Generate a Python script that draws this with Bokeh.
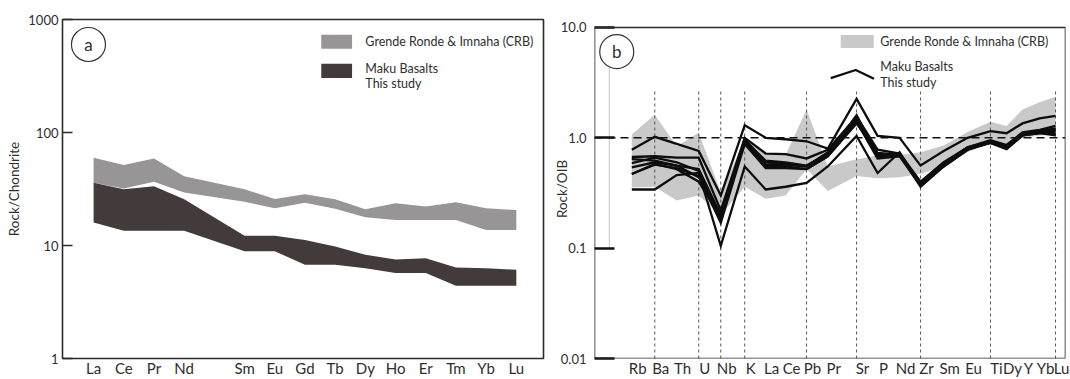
from bokeh.plotting import figure
from bokeh.layouts import row
from bokeh.models import FixedTicker, Span, Label, Range1d, LinearAxis, BoxAnnotation
from bokeh.embed import file_html
from bokeh.resources import INLINE

FONT = "Lato"
TXT = "#2e2e2e"

# ---------------- Panel a: REE / Chondrite ----------------
ree_names = ["La", "Ce", "Pr", "Nd", "Sm", "Eu", "Gd", "Tb", "Dy", "Ho", "Er", "Tm", "Yb", "Lu"]
ree_slot = [0, 1, 2, 3, 5, 6, 7, 8, 9, 10, 11, 12, 13, 14]   # Pm slot (4) left empty
crb_ree_hi = [59.7, 51.5, 59.0, 41.0, 31.4, 25.8, 28.4, 25.6, 20.9, 23.7, 22.1, 24.1, 21.4, 20.6]
crb_ree_lo = [36.0, 32.0, 36.7, 29.4, 24.4, 21.4, 23.9, 21.1, 17.8, 16.8, 16.8, 16.8, 13.7, 13.7]
maku_ree_hi = [36.0, 31.4, 33.5, 25.6, 12.2, 12.2, 11.2, 9.8, 8.3, 7.5, 7.7, 6.4, 6.3, 6.1]
maku_ree_lo = [16.0, 13.5, 13.5, 13.5, 8.9, 8.9, 6.75, 6.75, 6.3, 5.7, 5.7, 4.4, 4.4, 4.4]
a_yticks = [1, 10, 100, 1000]
a_ylabels = ["1", "10", "100", "1000"]

# ---------------- Panel b: OIB-normalised spider ----------------
elems = ["Rb", "Ba", "Th", "U", "Nb", "K", "La", "Ce", "Pb", "Pr", "Sr",
         "P", "Nd", "Zr", "Sm", "Eu", "Ti", "Dy", "Y", "Yb", "Lu"]
elem_x = [0.0, 1.085, 2.12, 3.16, 4.2, 5.33, 6.32, 7.26, 8.25, 9.25, 10.61,
          11.6, 12.64, 13.63, 14.72, 15.85, 16.93, 17.69, 18.44, 19.25, 20.0]
guide_elems = ["Ba", "U", "Nb", "K", "Pb", "Sr", "Zr", "Ti", "Lu"]

crb_oib_hi = [1.07, 1.62, 0.84, 1.11, 0.32, 0.97, 0.70, 0.70, 1.80, 0.55, 0.64,
              0.69, 0.70, 0.74, 0.85, 1.13, 1.40, 1.28, 1.80, 2.10, 2.35]
crb_oib_lo = [0.355, 0.36, 0.27, 0.30, 0.20, 0.36, 0.28, 0.30, 0.52, 0.33, 0.45,
              0.43, 0.44, 0.47, 0.556, 0.74, 0.90, 0.80, 1.00, 1.05, 1.07]

maku_1 = [0.78, 1.02, 0.88, 0.76, 0.30, 1.30, 1.00, 0.97, 0.93, 0.80, 2.25,
          1.04, 1.00, 0.56, 0.76, 1.00, 1.15, 1.10, 1.35, 1.50, 1.58]
maku_2 = [0.67, 0.68, 0.66, 0.66, 0.22, 1.00, 0.72, 0.71, 0.65, 0.78, 1.55,
          0.78, 0.72, 0.40, 0.60, 0.82, 0.95, 0.86, 1.12, 1.18, 1.28]
maku_3 = [0.64, 0.62, 0.56, 0.52, 0.20, 0.95, 0.62, 0.60, 0.56, 0.72, 1.45,
          0.72, 0.70, 0.38, 0.57, 0.80, 0.92, 0.82, 1.08, 1.15, 1.22]
maku_4 = [0.59, 0.66, 0.60, 0.50, 0.18, 0.92, 0.57, 0.57, 0.55, 0.70, 1.60,
          0.70, 0.70, 0.37, 0.55, 0.78, 0.90, 0.80, 1.05, 1.12, 1.18]
maku_5 = [0.54, 0.60, 0.56, 0.44, 0.20, 0.90, 0.55, 0.55, 0.52, 0.68, 1.40,
          0.65, 0.68, 0.37, 0.56, 0.80, 0.90, 0.79, 1.05, 1.10, 1.12]
maku_6 = [0.47, 0.57, 0.53, 0.45, 0.17, 0.88, 0.53, 0.53, 0.52, 0.68, 1.35,
          0.73, 0.70, 0.39, 0.58, 0.82, 0.93, 0.85, 1.10, 1.15, 1.08]
maku_7 = [0.47, 0.58, 0.52, 0.40, 0.19, 0.97, 0.60, 0.58, 0.55, 0.74, 1.50,
          0.68, 0.70, 0.36, 0.55, 0.78, 0.91, 0.81, 1.07, 1.13, 1.15]
maku_8 = [0.34, 0.34, 0.46, 0.48, 0.105, 0.55, 0.34, 0.36, 0.39, 0.55, 1.04,
          0.48, 0.74, 0.38, 0.56, 0.80, 0.93, 0.80, 1.05, 1.10, 1.05]
maku_samples = [maku_1, maku_2, maku_3, maku_4, maku_5, maku_6, maku_7, maku_8]
b_yticks = [0.01, 0.1, 1.0, 10.0]
b_ylabels = ["0.01", "0.1", "1.0", "10.0"]

GRAY_A = "#979595"
DARK_A = "#433b39"
GRAY_B = "#c9c9c9"
FRAME = "#2b2b2b"

# ================= figure a =================
pa = figure(width=548, height=379, x_range=(-1.03, 14.9), y_range=(1, 1000),
            y_axis_type="log", output_backend="svg", toolbar_location=None,
            min_border_left=62, min_border_right=5, min_border_top=19, min_border_bottom=20)
pa.grid.visible = False
pa.outline_line_color = FRAME
pa.outline_line_width = 1.6

pa.varea(x=ree_slot, y1=crb_ree_lo, y2=crb_ree_hi, fill_color=GRAY_A)
pa.varea(x=ree_slot, y1=maku_ree_lo, y2=maku_ree_hi, fill_color=DARK_A)

pa.xaxis.ticker = FixedTicker(ticks=ree_slot, minor_ticks=[])
pa.xaxis.major_label_overrides = {s: n for s, n in zip(ree_slot, ree_names)}
pa.xaxis.axis_line_color = None
pa.xaxis.major_tick_line_color = None
pa.xaxis.major_tick_in = 0
pa.xaxis.major_tick_out = 0
pa.xaxis.minor_tick_line_color = None
pa.xaxis.minor_tick_out = 0
pa.xaxis.major_label_standoff = 0
pa.xaxis.major_label_text_font = FONT
pa.xaxis.major_label_text_font_size = "15px"
pa.xaxis.major_label_text_color = TXT

pa.yaxis.ticker = FixedTicker(ticks=a_yticks, minor_ticks=[])
pa.yaxis.major_label_overrides = {t: l for t, l in zip(a_yticks, a_ylabels)}
pa.yaxis.axis_line_color = None
pa.yaxis.major_tick_in = 10
pa.yaxis.major_tick_out = 0
pa.yaxis.major_tick_line_width = 1.6
pa.yaxis.major_tick_line_color = FRAME
pa.yaxis.minor_tick_line_color = None
pa.yaxis.minor_tick_out = 0
pa.yaxis.major_label_standoff = 4
pa.yaxis.major_label_text_font = FONT
pa.yaxis.major_label_text_font_size = "13px"
pa.yaxis.major_label_text_color = TXT
pa.yaxis.axis_label = "Rock/Chondrite"
pa.yaxis.axis_label_text_font = FONT
pa.yaxis.axis_label_text_font_size = "13.5px"
pa.yaxis.axis_label_text_font_style = "normal"
pa.yaxis.axis_label_text_color = TXT
pa.yaxis.axis_label_standoff = 3

# panel label "a"
pa.scatter(x=[-0.17], y=[601], marker="circle", size=34, fill_color="white",
           line_color="#333333", line_width=1.2)
pa.add_layout(Label(x=-0.17, y=601, text="a", text_align="center", text_baseline="middle",
                    text_font=FONT, text_font_size="17px", text_color=TXT))
# legend a
pa.quad(left=[7.54], right=[8.56], bottom=[552], top=[733], fill_color=GRAY_A, line_color=None)
pa.quad(left=[7.54], right=[8.56], bottom=[303], top=[406], fill_color=DARK_A, line_color=None)
for txt, yy in [("Grende Ronde & Imnaha (CRB)", 640), ("Maku Basalts", 367), ("This study", 271)]:
    pa.add_layout(Label(x=9.0, y=yy, text=txt, text_baseline="middle", text_font=FONT,
                        text_font_size="12.5px", text_color=TXT))

# ================= figure b =================
XL, XR = -1.76, 20.47
shift = 0.28
YB, YT = 0.01, 11.8     # frame reaches slightly above the 10.0 box top
pb = figure(width=522, height=379, x_range=(XL, XR), y_range=(YB, YT),
            y_axis_type="log", x_axis_location=None, output_backend="svg", toolbar_location=None,
            min_border_left=46, min_border_right=5, min_border_top=19, min_border_bottom=20)
pb.grid.visible = False
pb.outline_line_color = None
pb.extra_x_ranges = {"lab": Range1d(XL - shift, XR - shift)}

pb.varea(x=elem_x, y1=crb_oib_lo, y2=crb_oib_hi, fill_color=GRAY_B)

gx = [elem_x[elems.index(g)] for g in guide_elems]
pb.segment(x0=gx, y0=[0.01] * len(gx), x1=gx, y1=[2.7] * len(gx),
           line_color="#555555", line_width=1, line_dash="3 3")
pb.segment(x0=[-1.06], y0=[0.1], x1=[-1.06], y1=[6.6], line_color="#c4c4c4", line_width=1)

pb.add_layout(Span(location=1.0, dimension="width", line_color="#111111",
                   line_width=1.6, line_dash="8 5"))

pb.multi_line(xs=[elem_x] * len(maku_samples), ys=maku_samples,
              line_color="#0d0d0d", line_width=2.3, line_join="miter")

pb.add_layout(BoxAnnotation(left=XL, right=XR, bottom=0.01, top=10.0, fill_alpha=0,
                            line_color=FRAME, line_width=1.6, line_alpha=1))

xax = LinearAxis(x_range_name="lab", ticker=FixedTicker(ticks=elem_x, minor_ticks=[]))
xax.major_label_overrides = {x: n for x, n in zip(elem_x, elems)}
xax.axis_line_color = None
xax.major_tick_line_color = None
xax.major_tick_in = 0
xax.major_tick_out = 0
xax.minor_tick_line_color = None
xax.minor_tick_out = 0
xax.major_label_standoff = 0
xax.major_label_text_font = FONT
xax.major_label_text_font_size = "15px"
xax.major_label_text_color = TXT
pb.add_layout(xax, "below")

pb.yaxis.ticker = FixedTicker(ticks=b_yticks, minor_ticks=[])
pb.yaxis.major_label_overrides = {t: l for t, l in zip(b_yticks, b_ylabels)}
pb.yaxis.axis_line_color = None
pb.yaxis.major_tick_in = 20
pb.yaxis.major_tick_out = 0
pb.yaxis.major_tick_line_width = 2.6
pb.yaxis.major_tick_line_color = "#111111"
pb.yaxis.minor_tick_line_color = None
pb.yaxis.minor_tick_out = 0
pb.yaxis.major_label_standoff = 8
pb.yaxis.major_label_text_font = FONT
pb.yaxis.major_label_text_font_size = "13px"
pb.yaxis.major_label_text_color = TXT
pb.yaxis.axis_label = "Rock/OIB"
pb.yaxis.axis_label_text_font = FONT
pb.yaxis.axis_label_text_font_size = "13.5px"
pb.yaxis.axis_label_text_font_style = "normal"
pb.yaxis.axis_label_text_color = TXT
pb.yaxis.axis_label_standoff = -12

# panel label "b"
pb.scatter(x=[-0.71], y=[6.03], marker="circle", size=34, fill_color="white",
           line_color="#333333", line_width=1.2)
pb.add_layout(Label(x=-0.71, y=6.03, text="b", text_align="center", text_baseline="middle",
                    text_font=FONT, text_font_size="17px", text_color=TXT))
# legend b
pb.quad(left=[9.86], right=[11.42], bottom=[6.51], top=[8.53], fill_color=GRAY_B, line_color=None)
pb.line(x=[9.39, 10.57, 11.43], y=[3.47, 4.12, 3.42], line_color="#0d0d0d", line_width=2.2)
for txt, yy in [("Grende Ronde & Imnaha (CRB)", 7.53), ("Maku Basalts", 4.42), ("This study", 3.18)]:
    pb.add_layout(Label(x=11.73, y=yy, text=txt, text_baseline="middle", text_font=FONT,
                        text_font_size="12.5px", text_color=TXT))

layout = row(pa, pb)
open("out.html", "w").write(file_html(layout, INLINE))
